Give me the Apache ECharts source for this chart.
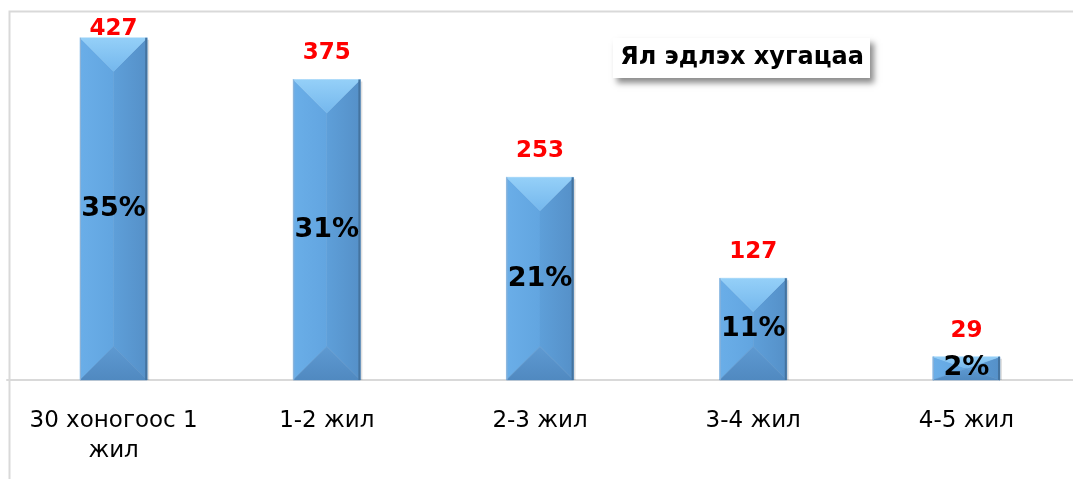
<!DOCTYPE html>
<html>
<head>
<meta charset="utf-8">
<script src="https://cdn.jsdelivr.net/npm/echarts@6/dist/echarts.min.js"></script>
<style>
html,body{margin:0;padding:0;background:#fff;}
#chart{width:1073px;height:479px;}
</style>
</head>
<body>
<div id="chart"></div>
<script>
const categories = ['30 хоногоос 1\nжил', '1-2 жил', '2-3 жил', '3-4 жил', '4-5 жил'];
const counts = [427, 375, 253, 127, 29];
const percents = ['35%', '31%', '21%', '11%', '2%'];
const chartTitle = 'Ял эдлэх хугацаа';

const FONT = '"DejaVu Sans", Verdana, sans-serif';
const chart = echarts.init(document.getElementById('chart'));

function renderBar(params, api) {
  const idx = params.dataIndex;
  const v = api.value(1);
  const top = api.coord([api.value(0), v]);
  const base = api.coord([api.value(0), 0]);
  const band = api.size([1, 0])[0];
  const w = band * 0.315;
  const cx = top[0];
  const x0 = cx - w / 2, x1 = cx + w / 2;
  const yt = top[1], yb = base[1];
  const mid = (yt + yb) / 2;
  const d = w / 2;
  const at = Math.min(yt + d, mid), ab = Math.max(yb - d, mid);
  const poly = (pts, fill) => ({ type: 'polygon', shape: { points: pts }, style: { fill: fill, stroke: fill, lineWidth: 0.5 } });
  const grad = (c1, c2, x, y, x2, y2) => new echarts.graphic.LinearGradient(x, y, x2, y2, [{ offset: 0, color: c1 }, { offset: 1, color: c2 }]);
  return {
    type: 'group',
    children: [
      { type: 'rect', shape: { x: x0 + 2, y: yt + 2, width: w, height: yb - yt - 2 }, style: { fill: 'rgba(0,0,0,0.12)' } },
      poly([[x0, yt], [cx, at], [cx, ab], [x0, yb]], grad('#6aaee8', '#62a5e0', 0, 0, 1, 0)),
      poly([[x1, yt], [cx, at], [cx, ab], [x1, yb]], grad('#5e9fd9', '#5590c8', 0, 0, 1, 0)),
      poly([[x0, yt], [x1, yt], [cx, at]], grad('#95d0f8', '#74b7ed', 0, 0, 0, 1)),
      poly([[x0, yb], [x1, yb], [cx, ab]], grad('#5e9ad2', '#5089c0', 0, 0, 0, 1)),
      { type: 'line', shape: { x1: x1 - 1, y1: yt, x2: x1 - 1, y2: yb }, style: { stroke: '#44739f', lineWidth: 2 } },
      { type: 'line', shape: { x1: x0 + 0.5, y1: yt, x2: x0 + 0.5, y2: yb }, style: { stroke: '#8fb2d6', lineWidth: 1 } },
      { type: 'text', x: cx, y: Math.max(yt - 26, 29), style: { text: String(counts[idx]), fill: '#ff0000', font: 'bold 23px ' + FONT, align: 'center', verticalAlign: 'middle' } },
      { type: 'text', x: cx, y: mid, style: { text: percents[idx], fill: '#000', font: 'bold 27px ' + FONT, align: 'center', verticalAlign: 'middle' } }
    ]
  };
}

chart.setOption({
  animation: false,
  backgroundColor: '#fff',
  grid: { left: 7, right: 0, top: 9, bottom: 99 },
  xAxis: {
    type: 'category',
    data: categories,
    axisLine: { lineStyle: { color: '#d9d9d9', width: 2 } },
    axisTick: { show: false },
    axisLabel: { color: '#000', fontSize: 23, fontFamily: FONT, lineHeight: 30, margin: 26, interval: 0 }
  },
  yAxis: { type: 'value', min: 0, max: 463, show: false, splitLine: { show: false } },
  series: [{
    type: 'custom',
    renderItem: renderBar,
    data: counts.map((c, i) => [i, c]),
    z: 5
  }],
  graphic: [
    { type: 'rect', left: 7, top: 9, shape: { width: 1100, height: 500 }, style: { fill: 'none', stroke: '#d9d9d9', lineWidth: 2 }, z: 1 },
    { type: 'rect', shape: { x: 613, y: 38, width: 257, height: 40 }, style: { fill: '#fff', shadowBlur: 6, shadowOffsetX: 4, shadowOffsetY: 5, shadowColor: 'rgba(0,0,0,0.45)' }, z: 10 },
    { type: 'text', x: 742, y: 58, style: { text: chartTitle, fill: '#000', font: 'bold 24px ' + FONT, align: 'center', verticalAlign: 'middle' }, z: 11 }
  ]
});
</script>
</body>
</html>
